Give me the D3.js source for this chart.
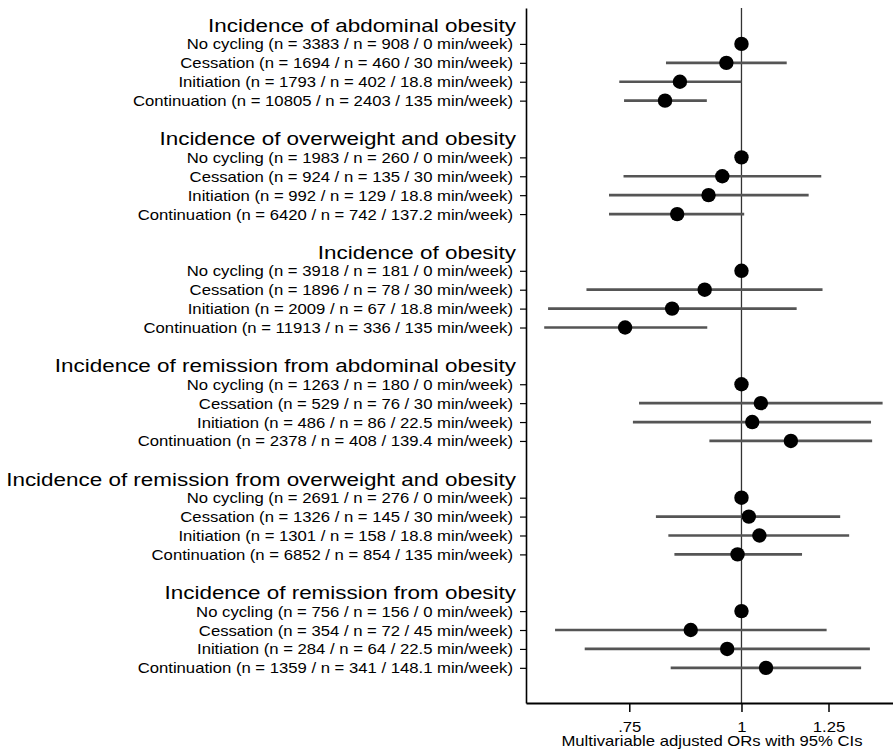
<!DOCTYPE html>
<html>
<head>
<meta charset="utf-8">
<script src="https://cdn.jsdelivr.net/npm/d3@7"></script>
<style>
  body { margin: 0; background: #fff; }
  svg text { font-family: "Liberation Sans", Arial, Helvetica, sans-serif; fill: #000; }
</style>
</head>
<body>
<div id="chart"></div>
<script>
// outcome headers
const outcomes = [
  "Incidence of abdominal obesity",
  "Incidence of overweight and obesity",
  "Incidence of obesity",
  "Incidence of remission from abdominal obesity",
  "Incidence of remission from overweight and obesity",
  "Incidence of remission from obesity"
];

// row labels per outcome
const rowLabels = [
  ["No cycling (n = 3383 / n = 908 / 0 min/week)",
   "Cessation (n = 1694 / n = 460 / 30 min/week)",
   "Initiation (n = 1793 / n = 402 / 18.8 min/week)",
   "Continuation (n = 10805 / n = 2403 / 135 min/week)"],
  ["No cycling (n = 1983 / n = 260 / 0 min/week)",
   "Cessation (n = 924 / n = 135 / 30 min/week)",
   "Initiation (n = 992 / n = 129 / 18.8 min/week)",
   "Continuation (n = 6420 / n = 742 / 137.2 min/week)"],
  ["No cycling (n = 3918 / n = 181 / 0 min/week)",
   "Cessation (n = 1896 / n = 78 / 30 min/week)",
   "Initiation (n = 2009 / n  = 67 / 18.8 min/week)",
   "Continuation (n = 11913 / n  = 336 / 135 min/week)"],
  ["No cycling (n = 1263 / n = 180 / 0 min/week)",
   "Cessation (n = 529 / n = 76 / 30 min/week)",
   "Initiation (n = 486 / n = 86 / 22.5 min/week)",
   "Continuation (n = 2378 / n = 408 / 139.4 min/week)"],
  ["No cycling (n = 2691 / n = 276 / 0 min/week)",
   "Cessation (n = 1326 / n = 145 / 30 min/week)",
   "Initiation (n = 1301 / n = 158 / 18.8 min/week)",
   "Continuation (n = 6852 / n = 854 / 135 min/week)"],
  ["No cycling (n = 756 / n = 156 / 0 min/week)",
   "Cessation (n = 354 / n = 72 / 45 min/week)",
   "Initiation (n = 284 / n = 64 / 22.5 min/week)",
   "Continuation (n = 1359 / n = 341 / 148.1 min/week)"]
];

// odds ratios and 95% CIs (no cycling = reference)
const estimates = [
  [1, 0.962, 0.854, 0.822],
  [1, 0.952, 0.919, 0.848],
  [1, 0.910, 0.837, 0.742],
  [1, 1.051, 1.028, 1.135],
  [1, 1.019, 1.047, 0.990],
  [1, 0.878, 0.964, 1.065]
];
const lower = [
  [null, 0.824, 0.731, 0.740],
  [null, 0.739, 0.712, 0.712],
  [null, 0.672, 0.609, 0.603],
  [null, 0.769, 0.757, 0.921],
  [null, 0.803, 0.829, 0.842],
  [null, 0.620, 0.669, 0.834]
];
const upper = [
  [null, 1.123, 1.000, 0.915],
  [null, 1.227, 1.188, 1.007],
  [null, 1.231, 1.152, 0.916],
  [null, 1.436, 1.394, 1.398],
  [null, 1.288, 1.318, 1.168],
  [null, 1.244, 1.390, 1.359]
];

const xTicks = [0.75, 1, 1.25];
const xTitle = "Multivariable adjusted ORs with 95% CIs";

// build rows: each outcome takes 6 slots (header, 4 rows, gap)
const rows = [];
const headers = [];
outcomes.forEach(function (o, g) {
  headers.push({ text: o, slot: g * 6 });
  rowLabels[g].forEach(function (lab, i) {
    rows.push({ label: lab, slot: g * 6 + 1 + i, est: estimates[g][i], lo: lower[g][i], hi: upper[g][i] });
  });
});

const W = 893, H = 755;
const stretch = 1.2; // the original lettering is wide

const svg = d3.select("#chart").append("svg")
  .attr("width", W).attr("height", H);

const x = d3.scaleLog().domain([0.5755, 1.4748]).range([526, 893]);
const y = d3.scaleLinear().domain([-0.9, 35.86]).range([8, 703]);

// reference line at OR = 1
svg.append("line")
  .attr("x1", x(1)).attr("x2", x(1))
  .attr("y1", y(-0.9)).attr("y2", y(35.86))
  .attr("stroke", "#333").attr("stroke-width", 1.3);

// y axis with row labels
const yAxis = svg.append("g")
  .attr("transform", "translate(526,0)")
  .call(d3.axisLeft(y)
    .tickValues(rows.map(function (d) { return d.slot; }))
    .tickFormat(function (s) { return rows.find(function (r) { return r.slot === s; }).label; })
    .tickSize(6).tickSizeOuter(0));
yAxis.select(".domain").attr("stroke", "#000").attr("stroke-width", 1.6);
yAxis.selectAll(".tick line").attr("stroke", "#000").attr("stroke-width", 1.2);
yAxis.selectAll(".tick text")
  .attr("x", 0).attr("dy", "0.36em")
  .attr("transform", "translate(-13,0) scale(" + stretch + ",1)")
  .style("font-size", "13.9px")
  .style("font-family", "'Liberation Sans', Arial, sans-serif")
  .attr("fill", "#000");

// outcome headers
svg.append("g")
  .selectAll("text")
  .data(headers)
  .enter()
  .append("text")
    .attr("text-anchor", "end")
    .attr("transform", function (d) { return "translate(516," + (y(d.slot) + 7) + ") scale(" + stretch + ",1)"; })
    .style("font-size", "18.7px")
    .text(function (d) { return d.text; });

// x axis
const xAxis = svg.append("g")
  .attr("transform", "translate(0,703)")
  .call(d3.axisBottom(x)
    .tickValues(xTicks)
    .tickFormat(function (d) { return d === 1 ? "1" : d3.format(".2f")(d).replace(/^0/, ""); })
    .tickSize(9).tickSizeOuter(0));
xAxis.select(".domain").attr("stroke", "#000").attr("stroke-width", 2);
xAxis.selectAll(".tick line").attr("stroke", "#000").attr("stroke-width", 1.5);
xAxis.selectAll(".tick text")
  .attr("y", 0).attr("dy", 0)
  .attr("transform", "translate(0,29) scale(" + stretch + ",1)")
  .style("font-size", "13.9px")
  .style("font-family", "'Liberation Sans', Arial, sans-serif")
  .attr("fill", "#000");

svg.append("text")
  .attr("text-anchor", "middle")
  .attr("transform", "translate(712,746) scale(" + stretch + ",1)")
  .style("font-size", "13.9px")
  .text(xTitle);

// confidence intervals
svg.append("g")
  .selectAll("line")
  .data(rows.filter(function (d) { return d.lo !== null; }))
  .enter()
  .append("line")
    .attr("x1", function (d) { return x(d.lo); })
    .attr("x2", function (d) { return x(d.hi); })
    .attr("y1", function (d) { return y(d.slot); })
    .attr("y2", function (d) { return y(d.slot); })
    .attr("stroke", "#555")
    .attr("stroke-width", 2.7);

// point estimates
svg.append("g")
  .selectAll("circle")
  .data(rows)
  .enter()
  .append("circle")
    .attr("cx", function (d) { return x(d.est); })
    .attr("cy", function (d) { return y(d.slot); })
    .attr("r", 7.2)
    .style("fill", "#000");
</script>
</body>
</html>
